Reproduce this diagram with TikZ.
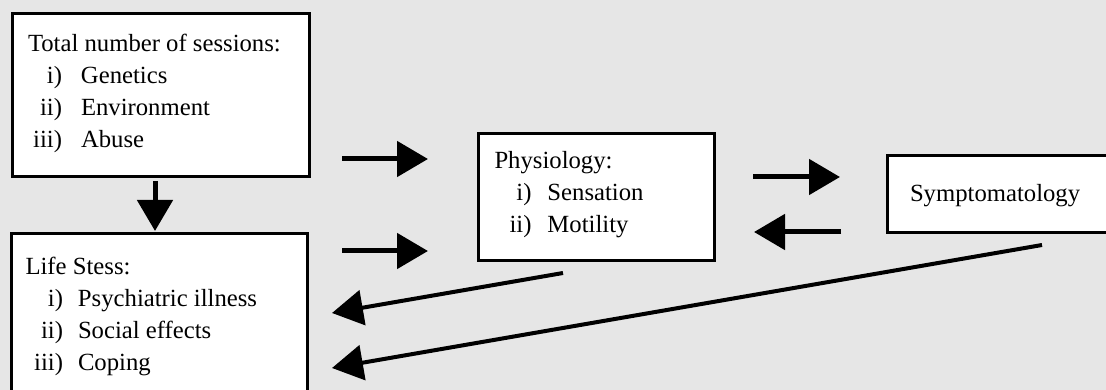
\documentclass[tikz,border=0pt]{standalone}
\usepackage{fontspec}
\setmainfont{Liberation Serif}
\usetikzlibrary{arrows.meta}
\definecolor{bg}{RGB}{230,230,230}
\newcommand{\lbl}[3]{\makebox[#1][r]{#2}\hspace{#3}}
\begin{document}
\begin{tikzpicture}[x=1pt,y=-1pt,
  box/.style={draw=black,line width=3pt,fill=white,rectangle,inner sep=0pt,outer sep=0pt,anchor=north west},
  txt/.style={inner sep=0pt,outer sep=0pt,anchor=base west,font=\fontsize{24.7pt}{32pt}\selectfont},
  arr/.style={line width=5pt,-{Triangle[length=31pt,width=35pt]}},
  darr/.style={line width=4pt,-{Triangle[length=31pt,width=35pt]}}]
\clip (0,0) rectangle (1106,390);
\fill[bg] (0,0) rectangle (1106,390);
% boxes
\node[box,minimum width=297pt,minimum height=163pt] (gen) at (12,14) {};
\node[box,minimum width=296pt,minimum height=180pt] (stress) at (11,234) {};
\node[box,minimum width=236pt,minimum height=127pt] (phys) at (478,134) {};
\node[box,minimum width=240pt,minimum height=77pt] (symp) at (887,156) {};
% texts
\node[txt] (gentext) at (28,52) {\begin{tabular}[t]{@{}l@{}}Total number of sessions:\\
\lbl{34pt}{i)}{19pt}Genetics\\
\lbl{34pt}{ii)}{19pt}Environment\\
\lbl{34pt}{iii)}{19pt}Abuse\end{tabular}};
\node[txt] (stresstext) at (25.5,275) {\begin{tabular}[t]{@{}l@{}}Life Stess:\\
\lbl{37.5pt}{i)}{15pt}Psychiatric illness\\
\lbl{37.5pt}{ii)}{15pt}Social effects\\
\lbl{37.5pt}{iii)}{15pt}Coping\end{tabular}};
\node[txt] (phystext) at (494.5,169) {\begin{tabular}[t]{@{}l@{}}Physiology:\\
\lbl{37pt}{i)}{16pt}Sensation\\
\lbl{37pt}{ii)}{16pt}Motility\end{tabular}};
\node[txt] (symptext) at (910,202) {Symptomatology};
% arrow end points
\coordinate (d1) at (155,181); \coordinate (d2) at (155,231);
\coordinate (a1s) at (342,159); \coordinate (a1e) at (428,159);
\coordinate (a2s) at (342,251); \coordinate (a2e) at (428,251);
\coordinate (rs) at (753,177); \coordinate (re) at (840,177);
\coordinate (ls) at (841,232); \coordinate (le) at (754,232);
\coordinate (p1s) at (563,273); \coordinate (p1e) at (332,313);
\coordinate (p2s) at (1042,245); \coordinate (p2e) at (332,368);
% arrows
\draw[arr] (d1) -- (d2);
\draw[arr] (a1s) -- (a1e);
\draw[arr] (a2s) -- (a2e);
\draw[arr] (rs) -- (re);
\draw[arr] (ls) -- (le);
\draw[darr] (p1s) -- (p1e);
\draw[darr] (p2s) -- (p2e);
\end{tikzpicture}
\end{document}
